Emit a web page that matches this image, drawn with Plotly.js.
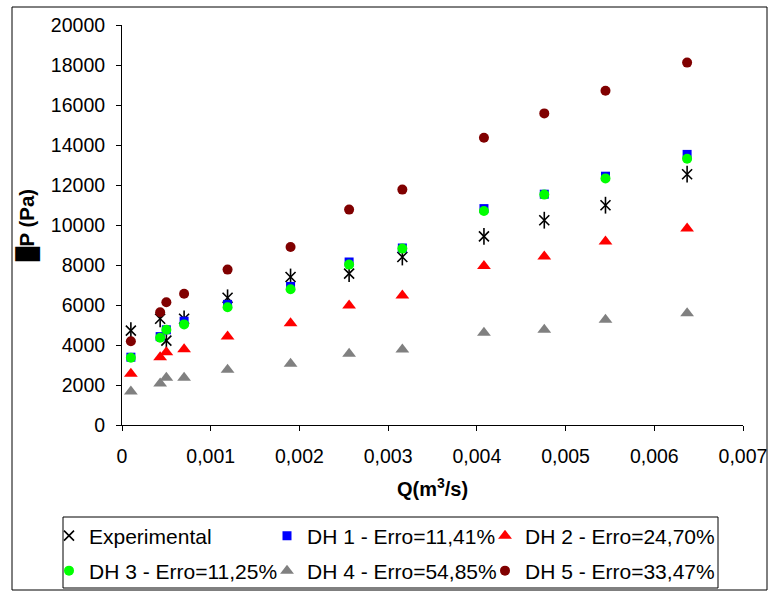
<!DOCTYPE html>
<html>
<head>
<meta charset="utf-8">
<script src="https://cdn.plot.ly/plotly-3.0.1.min.js"></script>
<style>html,body{margin:0;padding:0;background:#fff;}#chart{width:772px;height:592px;}</style>
</head>
<body>
<div id="chart"></div>
<script>
var flowQ = [0.0001, 0.00043, 0.0005, 0.0007, 0.00119, 0.0019, 0.00256, 0.00316, 0.00408, 0.00476, 0.00545, 0.00637];
var experimental = [4720, 5310, 4220, 5310, 6360, 7400, 7570, 8400, 9430, 10240, 10990, 12540];
var dh1 = [3390, 4420, 4760, 5190, 6030, 6930, 8150, 8850, 10820, 11540, 12440, 13530];
var dh2 = [2560, 3390, 3640, 3790, 4420, 5090, 5980, 6480, 7950, 8430, 9180, 9820];
var dh3 = [3360, 4360, 4760, 5030, 5890, 6790, 8020, 8820, 10700, 11520, 12330, 13310];
var dh4 = [1680, 2080, 2360, 2360, 2760, 3060, 3560, 3770, 4610, 4760, 5260, 5590];
var dh5 = [4190, 5640, 6140, 6560, 7770, 8900, 10770, 11770, 14360, 15580, 16710, 18120];

var seriesNames = ['Experimental', 'DH 1 - Erro=11,41%', 'DH 2 - Erro=24,70%',
                   'DH 3 - Erro=11,25%', 'DH 4 - Erro=54,85%', 'DH 5 - Erro=33,47%'];

var xTickVals = [0, 0.001, 0.002, 0.003, 0.004, 0.005, 0.006, 0.007];
var xTickText = ['0', '0,001', '0,002', '0,003', '0,004', '0,005', '0,006', '0,007'];
var yTickVals = [0, 2000, 4000, 6000, 8000, 10000, 12000, 14000, 16000, 18000, 20000];
var yTickText = ['0', '2000', '4000', '6000', '8000', '10000', '12000', '14000', '16000', '18000', '20000'];

var FONT = '"Liberation Sans", Arial, sans-serif';

var traces = [
  {x: flowQ, y: experimental, name: seriesNames[0], mode: 'markers', type: 'scatter', legend: 'legend',
   marker: {symbol: 'x-thin-open', size: 10, color: '#000', line: {color: '#000', width: 1.6}}},
  {x: flowQ, y: experimental, name: seriesNames[0], mode: 'markers', type: 'scatter', showlegend: false,
   marker: {symbol: 'line-ns-open', size: 12, color: '#000', line: {color: '#000', width: 1.6}}},
  {x: flowQ, y: dh1, name: seriesNames[1], mode: 'markers', type: 'scatter', legend: 'legend2',
   marker: {symbol: 'square', size: 9, color: '#0000FF'}},
  {x: flowQ, y: dh2, name: seriesNames[2], mode: 'markers', type: 'scatter', legend: 'legend3',
   marker: {symbol: 'triangle-up', size: 12, color: '#FF0000'}},
  {x: flowQ, y: dh3, name: seriesNames[3], mode: 'markers', type: 'scatter', legend: 'legend4',
   marker: {symbol: 'circle', size: 10, color: '#00FF00'}},
  {x: flowQ, y: dh4, name: seriesNames[4], mode: 'markers', type: 'scatter', legend: 'legend5',
   marker: {symbol: 'triangle-up', size: 12, color: '#808080'}},
  {x: flowQ, y: dh5, name: seriesNames[5], mode: 'markers', type: 'scatter', legend: 'legend6',
   marker: {symbol: 'circle', size: 10, color: '#800000'}}
];

function px2x(p) { return (p - 122) / 621; }
function px2y(p) { return (425 - p) / 400; }

function legendAt(pxX, pxY) {
  return {
    orientation: 'h', xanchor: 'left', yanchor: 'middle',
    xref: 'container', yref: 'container',
    x: pxX / 772, y: 1 - pxY / 592,
    bgcolor: 'rgba(0,0,0,0)', borderwidth: 0,
    font: {family: FONT, size: 21, color: '#000'},
    itemsizing: 'trace'
  };
}

var layout = {
  width: 772, height: 592,
  margin: {l: 122, r: 29, t: 25, b: 167, pad: 0},
  paper_bgcolor: '#fff', plot_bgcolor: '#fff',
  font: {family: FONT, color: '#000'},
  showlegend: true,
  xaxis: {
    range: [0, 0.007], tickmode: 'array', tickvals: xTickVals, ticktext: xTickText,
    showgrid: false, zeroline: false, showline: true, linecolor: '#000', linewidth: 1,
    ticks: 'outside', ticklen: 5, tickcolor: '#000', tickwidth: 1,
    tickfont: {family: FONT, size: 19.5, color: '#000'}, ticklabelstandoff: 9,
    title: {text: '<b>Q(m<sup>3</sup>/s)</b>', font: {family: FONT, size: 20, color: '#000'}, standoff: 15},
    automargin: false, fixedrange: true
  },
  yaxis: {
    range: [0, 20000], tickmode: 'array', tickvals: yTickVals, ticktext: yTickText,
    showgrid: false, zeroline: false, showline: true, linecolor: '#000', linewidth: 1,
    ticks: 'outside', ticklen: 5, tickcolor: '#000', tickwidth: 1,
    tickfont: {family: FONT, size: 19.5, color: '#000'}, ticklabelstandoff: 7,
    title: {text: '<b>\u2588P (Pa)</b>', font: {family: FONT, size: 20.5, color: '#000'}, standoff: 10},
    automargin: false, fixedrange: true
  },
  legend: legendAt(49, 536),
  legend2: legendAt(267, 536),
  legend3: legendAt(485, 536),
  legend4: legendAt(49, 571),
  legend5: legendAt(267, 571),
  legend6: legendAt(485, 571),
  shapes: [
    {type: 'rect', xref: 'paper', yref: 'paper', x0: px2x(12), x1: px2x(767), y0: px2y(590), y1: px2y(7),
     line: {color: '#000', width: 1}, fillcolor: 'rgba(0,0,0,0)', layer: 'below'},
    {type: 'rect', xref: 'paper', yref: 'paper', x0: px2x(63), x1: px2x(718), y0: px2y(588), y1: px2y(517),
     line: {color: '#000', width: 1}, fillcolor: 'rgba(0,0,0,0)', layer: 'below'}
  ]
};

Plotly.newPlot('chart', traces, layout, {displayModeBar: false, staticPlot: true});
</script>
</body>
</html>
